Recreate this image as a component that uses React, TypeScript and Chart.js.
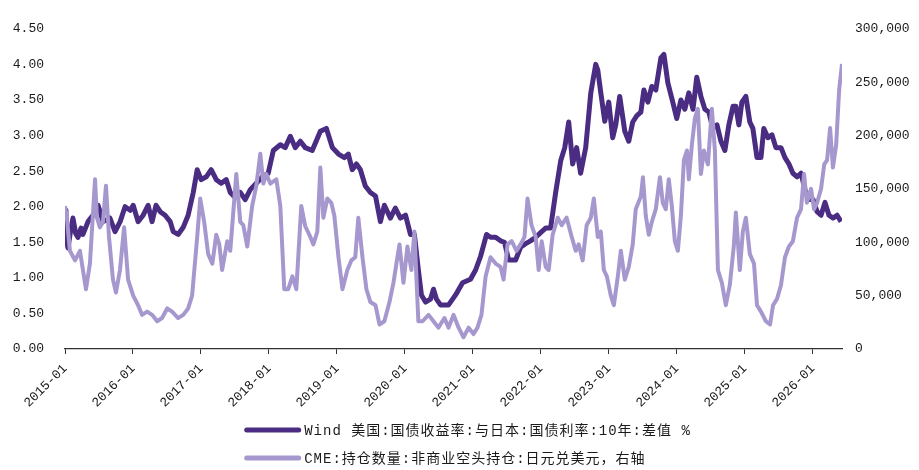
import React, { useEffect, useRef } from 'react';
import { Chart, registerables } from 'chart.js';

Chart.register(...registerables);

const spreadLabel = 'Wind 美国:国债收益率:与日本:国债利率:10年:差值 %';
const cmeLabel = 'CME:持仓数量:非商业空头持仓:日元兑美元，右轴';

const xTickLabels = ['2015-01', '2016-01', '2017-01', '2018-01', '2019-01', '2020-01', '2021-01', '2022-01', '2023-01', '2024-01', '2025-01', '2026-01'];
const leftTicks = [0, 0.5, 1, 1.5, 2, 2.5, 3, 3.5, 4, 4.5];
const rightTicks = [0, 50000, 100000, 150000, 200000, 250000, 300000];

const spreadDates = [
  '2015-01-01', '2015-01-06', '2015-01-17', '2015-01-27', '2015-02-13', '2015-02-28', '2015-03-10', '2015-03-26', '2015-04-06', '2015-05-03', '2015-05-29', '2015-06-26', '2015-07-23', '2015-08-29', '2015-09-26', '2015-10-23', '2015-11-19', '2015-12-16',
  '2016-01-02', '2016-01-28', '2016-02-25', '2016-03-21', '2016-04-12', '2016-05-03', '2016-05-25', '2016-06-21', '2016-07-18', '2016-08-04', '2016-08-30', '2016-09-27', '2016-10-23', '2016-11-20', '2016-12-11',
  '2017-01-02', '2017-01-29', '2017-02-25', '2017-03-22', '2017-04-18', '2017-05-15', '2017-06-06', '2017-07-02', '2017-07-29', '2017-08-25', '2017-09-22', '2017-10-24', '2017-11-26', '2017-12-27',
  '2018-01-24', '2018-03-01', '2018-03-27', '2018-04-24', '2018-05-20', '2018-06-17', '2018-07-13', '2018-08-20', '2018-10-03', '2018-11-05', '2018-12-07',
  '2019-01-09', '2019-02-10', '2019-03-01', '2019-03-22', '2019-04-14', '2019-05-05', '2019-06-01', '2019-06-28', '2019-07-25', '2019-08-21', '2019-09-12', '2019-10-14', '2019-11-10', '2019-12-07',
  '2020-01-04', '2020-01-30', '2020-02-21', '2020-03-12', '2020-03-28', '2020-04-20', '2020-05-16', '2020-06-02', '2020-06-18', '2020-07-09', '2020-08-22', '2020-09-29', '2020-11-06', '2020-12-18',
  '2021-01-15', '2021-02-11', '2021-03-13', '2021-04-04', '2021-05-01', '2021-05-27', '2021-06-18', '2021-07-10', '2021-08-17', '2021-09-13', '2021-10-10', '2021-11-06', '2021-12-03',
  '2022-01-05', '2022-01-26', '2022-02-22', '2022-03-19', '2022-04-16', '2022-05-07', '2022-05-28', '2022-06-19', '2022-07-10', '2022-08-01', '2022-08-28', '2022-09-25', '2022-10-21', '2022-11-02', '2022-11-18', '2022-12-09', '2022-12-30',
  '2023-01-21', '2023-02-07', '2023-02-28', '2023-03-25', '2023-04-16', '2023-05-07', '2023-05-29', '2023-06-20', '2023-07-06', '2023-07-27', '2023-08-18', '2023-09-09', '2023-10-06', '2023-10-22', '2023-11-13', '2023-12-09', '2023-12-30',
  '2024-01-22', '2024-02-13', '2024-03-04', '2024-03-26', '2024-04-16', '2024-05-08', '2024-05-29', '2024-06-20', '2024-07-11', '2024-08-03', '2024-08-24', '2024-09-15', '2024-10-06', '2024-10-28', '2024-11-13', '2024-11-29', '2024-12-15',
  '2025-01-06', '2025-01-27', '2025-02-13', '2025-03-05', '2025-03-26', '2025-04-11', '2025-05-03', '2025-05-24', '2025-06-15', '2025-07-12', '2025-08-03', '2025-08-24', '2025-09-15', '2025-10-07', '2025-10-28', '2025-11-19', '2025-12-10',
  '2026-01-02', '2026-01-23', '2026-02-14', '2026-03-05', '2026-03-26', '2026-04-17', '2026-05-09', '2026-05-30',
];

const spreadValues = [
  1.95, 1.55, 1.42, 1.60, 1.84, 1.62, 1.57, 1.70, 1.61, 1.79, 1.88, 2.02, 1.79, 1.84, 1.65, 1.79, 2.00, 1.95,
  2.02, 1.79, 1.88, 2.02, 1.79, 2.02, 1.93, 1.88, 1.79, 1.65, 1.61, 1.71, 1.88, 2.20, 2.52,
  2.38, 2.42, 2.52, 2.38, 2.33, 2.38, 2.20, 2.13, 2.20, 2.10, 2.24, 2.33, 2.42, 2.47,
  2.79, 2.87, 2.83, 2.99, 2.83, 2.92, 2.83, 2.79, 3.06, 3.10, 2.83,
  2.74, 2.69, 2.74, 2.52, 2.60, 2.52, 2.29, 2.20, 2.15, 1.79, 2.02, 1.84, 1.98, 1.84,
  1.88, 1.61, 1.61, 1.11, 0.76, 0.66, 0.70, 0.84, 0.70, 0.62, 0.62, 0.76, 0.93, 0.98,
  1.11, 1.30, 1.61, 1.57, 1.57, 1.52, 1.50, 1.25, 1.25, 1.43, 1.48, 1.52, 1.57,
  1.65, 1.70, 1.70, 2.20, 2.65, 2.83, 3.19, 2.60, 2.83, 2.47, 2.83, 3.60, 4.00, 3.92, 3.60, 3.20, 3.47,
  2.97, 3.15, 3.55, 3.06, 2.92, 3.19, 3.28, 3.33, 3.64, 3.47, 3.69, 3.64, 4.09, 4.14, 3.74, 3.47, 3.24,
  3.50, 3.37, 3.60, 3.37, 3.82, 3.55, 3.37, 3.33, 3.10, 3.15, 2.92, 2.79, 3.15, 3.41, 3.41, 3.15, 3.47,
  3.55, 3.19, 3.10, 2.69, 2.69, 3.10, 2.97, 3.01, 2.83, 2.83, 2.69, 2.60, 2.47, 2.42, 2.47, 2.24, 2.10,
  2.10, 1.93, 1.88, 2.06, 1.88, 1.84, 1.88, 1.79,
];

const cmeDates = [
  '2015-01-01', '2015-01-11', '2015-01-27', '2015-02-24', '2015-03-20', '2015-04-06', '2015-04-22', '2015-05-13', '2015-06-10', '2015-06-20', '2015-07-06', '2015-07-22', '2015-08-08', '2015-08-24', '2015-09-15', '2015-10-01', '2015-10-22', '2015-11-14', '2015-12-05',
  '2016-01-02', '2016-01-28', '2016-02-19', '2016-03-16', '2016-04-12', '2016-05-09', '2016-06-05', '2016-07-02', '2016-07-28', '2016-08-30', '2016-09-27', '2016-10-23', '2016-11-14', '2016-12-11', '2016-12-27',
  '2017-01-18', '2017-02-09', '2017-03-01', '2017-03-22', '2017-04-08', '2017-04-23', '2017-05-20', '2017-06-06', '2017-07-08', '2017-07-29', '2017-08-15', '2017-09-06', '2017-10-02', '2017-10-24', '2017-11-15', '2017-12-01', '2017-12-17',
  '2018-01-08', '2018-02-10', '2018-03-01', '2018-03-22', '2018-04-13', '2018-05-05', '2018-05-26', '2018-06-22', '2018-07-13', '2018-08-10', '2018-08-26', '2018-09-17', '2018-10-03', '2018-10-19', '2018-11-10', '2018-12-01', '2018-12-17',
  '2019-01-09', '2019-01-30', '2019-02-26', '2019-03-17', '2019-04-08', '2019-04-24', '2019-05-16', '2019-06-07', '2019-06-28', '2019-07-25', '2019-08-16', '2019-09-12', '2019-10-09', '2019-10-30', '2019-11-21', '2019-12-02', '2019-12-23',
  '2020-01-14', '2020-02-05', '2020-02-21', '2020-03-12', '2020-04-04', '2020-05-06', '2020-06-02', '2020-06-28', '2020-07-30', '2020-08-22', '2020-09-18', '2020-10-15', '2020-11-11', '2020-12-08',
  '2021-01-04', '2021-01-25', '2021-02-16', '2021-03-08', '2021-04-04', '2021-05-01', '2021-05-27', '2021-06-13', '2021-07-04', '2021-07-26', '2021-08-22', '2021-09-13', '2021-10-04', '2021-10-20', '2021-11-11', '2021-12-03', '2021-12-19',
  '2022-01-05', '2022-01-26', '2022-02-12', '2022-03-03', '2022-03-30', '2022-04-21', '2022-05-17', '2022-06-14', '2022-07-05', '2022-07-21', '2022-08-12', '2022-09-03', '2022-09-25', '2022-10-11', '2022-11-02', '2022-11-18', '2022-12-04', '2022-12-20',
  '2023-01-11', '2023-01-27', '2023-02-18', '2023-03-04', '2023-03-25', '2023-04-16', '2023-05-07', '2023-05-23', '2023-06-20', '2023-07-01', '2023-07-16', '2023-08-02', '2023-08-18', '2023-09-09', '2023-10-01', '2023-10-16', '2023-11-02', '2023-11-18', '2023-12-04', '2023-12-20',
  '2024-01-06', '2024-01-22', '2024-02-08', '2024-02-24', '2024-03-04', '2024-03-20', '2024-04-06', '2024-04-22', '2024-05-08', '2024-05-24', '2024-06-15', '2024-07-06', '2024-07-22', '2024-08-08', '2024-08-29', '2024-09-20', '2024-10-11', '2024-11-02', '2024-11-13', '2024-12-04', '2024-12-20',
  '2025-01-06', '2025-01-27', '2025-02-19', '2025-03-05', '2025-03-26', '2025-04-22', '2025-05-14', '2025-05-30', '2025-06-21', '2025-07-12', '2025-08-03', '2025-08-24', '2025-09-15', '2025-10-07', '2025-10-28', '2025-11-14', '2025-11-29', '2025-12-21',
  '2026-01-07', '2026-01-23', '2026-02-14', '2026-03-01', '2026-03-16', '2026-04-02', '2026-04-17', '2026-05-04', '2026-05-20', '2026-06-05',
];

const cmeValues = [
  134000, 123000, 92000, 83000, 92000, 74000, 56000, 80000, 159000, 123000, 114000, 119000, 153000, 105000, 65000, 53000, 74000, 114000, 65000,
  50000, 41000, 32000, 35000, 32000, 26000, 29000, 38000, 35000, 29000, 32000, 38000, 50000, 105000, 141000,
  119000, 89000, 80000, 107000, 98000, 74000, 101000, 92000, 164000, 119000, 116000, 96000, 134000, 153000, 183000, 155000, 164000,
  155000, 159000, 134000, 56000, 56000, 68000, 56000, 134000, 115000, 105000, 98000, 110000, 170000, 123000, 141000, 137000, 125000,
  86000, 56000, 74000, 83000, 86000, 123000, 86000, 56000, 44000, 41000, 23000, 26000, 44000, 62000, 86000, 98000, 62000,
  96000, 74000, 110000, 26000, 26000, 32000, 26000, 20000, 29000, 20000, 32000, 20000, 11000, 20000,
  14000, 20000, 32000, 68000, 86000, 80000, 77000, 65000, 98000, 101000, 92000, 98000, 105000, 141000, 116000, 105000, 74000,
  101000, 77000, 74000, 107000, 123000, 116000, 123000, 105000, 92000, 98000, 83000, 116000, 123000, 141000, 105000, 110000, 74000, 68000,
  50000, 41000, 68000, 92000, 65000, 77000, 98000, 131000, 143000, 161000, 125000, 107000, 119000, 131000, 161000, 137000, 131000, 159000, 134000, 101000,
  92000, 125000, 177000, 186000, 159000, 191000, 216000, 225000, 164000, 186000, 173000, 225000, 186000, 74000, 62000, 41000, 60000, 96000, 128000, 74000, 110000,
  123000, 89000, 80000, 41000, 35000, 26000, 23000, 41000, 47000, 60000, 86000, 96000, 101000, 123000, 131000, 164000, 137000, 150000,
  131000, 137000, 150000, 173000, 177000, 207000, 170000, 191000, 243000, 267000,
];

const DARK = '#4a2c82';
const LIGHT = '#a698cf';
const TEXT = '#1a1a1a';
const MONO = '"Liberation Mono", "DejaVu Sans Mono", monospace';

// months elapsed since 2015-01-01
function toMonths(d: string): number {
  const [y, m, day] = d.split('-').map(Number);
  return (y - 2015) * 12 + (m - 1) + ((day || 1) - 1) / 30;
}

const xTickMonths = xTickLabels.map((l) => toMonths(l + '-01'));

const legendPlugin = {
  id: 'bottomLegend',
  afterDraw(chart: any) {
    const ctx = chart.ctx as CanvasRenderingContext2D;
    const ds = chart.data.datasets;
    ctx.save();
    ctx.font = '14px "Liberation Mono", "Noto Sans CJK SC", monospace';
    try { (ctx as any).letterSpacing = '1px'; } catch (e) { /* ignore */ }
    const lineW = 57;
    const gap = 3;
    const widths = ds.map((d: any) => ctx.measureText(d.label).width);
    const blockW = lineW + gap + Math.max(...widths);
    const left = chart.width / 2 - blockW / 2 + 8;
    const rows = [430, 458];
    ds.forEach((d: any, i: number) => {
      const y = rows[i];
      ctx.strokeStyle = d.borderColor;
      ctx.lineWidth = 5;
      ctx.lineCap = 'round';
      ctx.beginPath();
      ctx.moveTo(left + 2.5, y);
      ctx.lineTo(left + lineW - 2.5, y);
      ctx.stroke();
      ctx.fillStyle = TEXT;
      ctx.textAlign = 'left';
      ctx.textBaseline = 'middle';
      ctx.fillText(d.label, left + lineW + gap, y + 1);
    });
    ctx.restore();
  },
};

export default function App() {
  const canvasRef = useRef<HTMLCanvasElement | null>(null);

  useEffect(() => {
    if (!canvasRef.current) return;
    const spreadPoints = spreadDates.map((d, i) => ({ x: toMonths(d), y: spreadValues[i] }));
    const cmePoints = cmeDates.map((d, i) => ({ x: toMonths(d), y: cmeValues[i] }));
    const xMax = Math.max(toMonths(spreadDates[spreadDates.length - 1]), toMonths(cmeDates[cmeDates.length - 1]));

    const chart = new Chart(canvasRef.current, {
      type: 'line',
      data: {
        datasets: [
          {
            label: spreadLabel,
            data: spreadPoints,
            borderColor: DARK,
            backgroundColor: DARK,
            borderWidth: 5,
            pointRadius: 0,
            tension: 0,
            borderJoinStyle: 'round',
            yAxisID: 'y',
            order: 1,
          },
          {
            label: cmeLabel,
            data: cmePoints,
            borderColor: LIGHT,
            backgroundColor: LIGHT,
            borderWidth: 4,
            pointRadius: 0,
            tension: 0,
            borderJoinStyle: 'round',
            yAxisID: 'y1',
            order: 0,
          },
        ],
      },
      options: {
        animation: false,
        responsive: true,
        maintainAspectRatio: false,
        layout: { padding: { top: 17, bottom: 56, left: 0, right: 0 } },
        plugins: {
          legend: { display: false },
          tooltip: { enabled: false },
        },
        scales: {
          x: {
            type: 'linear',
            min: 0,
            max: xMax,
            afterBuildTicks: (scale: any) => {
              scale.ticks = xTickMonths.map((v) => ({ value: v }));
            },
            afterFit: (scale: any) => {
              scale.height = 65;
            },
            ticks: {
              autoSkip: false,
              minRotation: 45,
              maxRotation: 45,
              padding: 7,
              color: TEXT,
              font: { family: MONO, size: 13 },
              callback: (_v: any, i: number) => xTickLabels[i],
            },
            grid: {
              display: true,
              drawOnChartArea: false,
              drawTicks: true,
              tickLength: 5,
              color: '#333',
              lineWidth: 1,
            },
            border: { display: true, color: '#333', width: 1.3 },
          },
          y: {
            position: 'left',
            min: 0,
            max: 4.5,
            afterBuildTicks: (scale: any) => {
              scale.ticks = leftTicks.map((v) => ({ value: v }));
            },
            afterFit: (scale: any) => {
              scale.width = 65;
            },
            ticks: {
              padding: 21,
              color: TEXT,
              font: { family: MONO, size: 13 },
              callback: (v: any) => Number(v).toFixed(2),
            },
            grid: { display: false, drawTicks: false },
            border: { display: false },
          },
          y1: {
            position: 'right',
            min: 0,
            max: 300000,
            afterBuildTicks: (scale: any) => {
              scale.ticks = rightTicks.map((v) => ({ value: v }));
            },
            afterFit: (scale: any) => {
              scale.width = 77;
            },
            ticks: {
              padding: 13,
              color: TEXT,
              font: { family: MONO, size: 13 },
              callback: (v: any) => Number(v).toLocaleString('en-US'),
            },
            grid: { display: false, drawTicks: false },
            border: { display: false },
          },
        },
      },
      plugins: [legendPlugin],
    } as any);

    return () => chart.destroy();
  }, []);

  return (
    <div style={{ position: 'absolute', left: 0, top: 0, width: 919, height: 470, background: '#fff' }}>
      <canvas ref={canvasRef} />
    </div>
  );
}
